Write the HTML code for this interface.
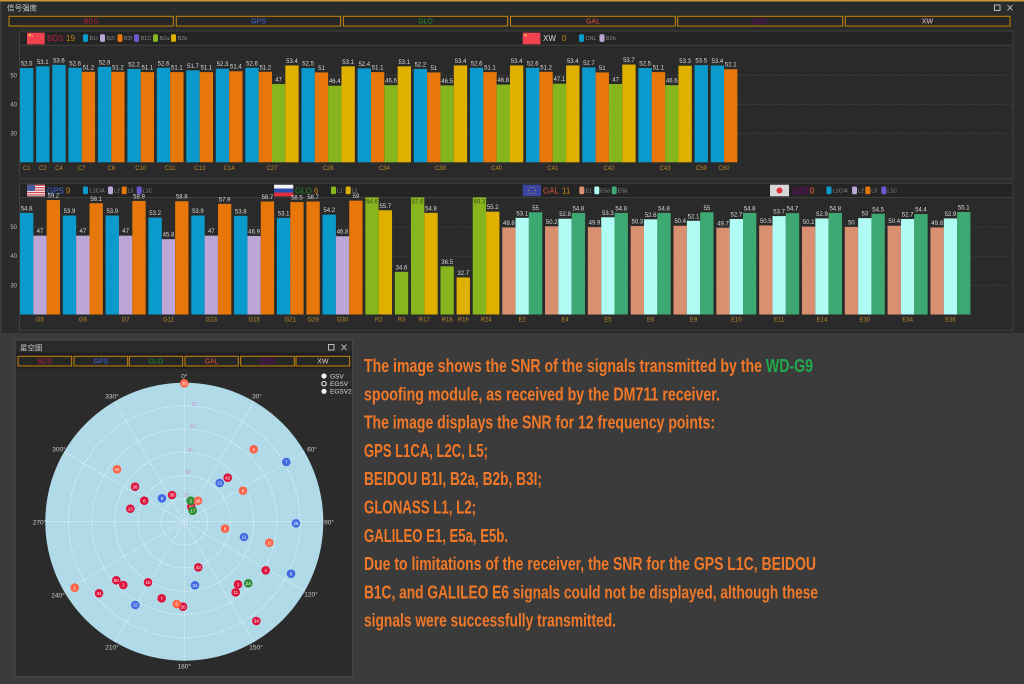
<!DOCTYPE html>
<html><head><meta charset="utf-8"><style>
html,body{margin:0;padding:0;background:#3b3b3b;}
svg{display:block;}
</style></head><body>
<svg width="1024" height="684" viewBox="0 0 1024 684" xmlns="http://www.w3.org/2000/svg" font-family="'Liberation Sans','Noto Sans CJK SC',sans-serif">
<style>
.b{fill:#0A9BCC}.o{fill:#E8770A}.g{fill:#86B51E}.y{fill:#E0B000}.l{fill:#BBA6D6}.s{fill:#D89070}.c{fill:#B0FBF3}.e{fill:#3EA872}.sb{fill:#6A5ACD}
.v{font-size:6px;fill:#dcdcdc;text-anchor:middle}
.vc{font-size:6px;fill:#3c4a20;text-anchor:middle}
.xl{font-size:6px;fill:#C08A2A;text-anchor:middle}
.yl{font-size:6px;fill:#b8b8b8;text-anchor:end}
.lg{font-size:5.5px;fill:#8a8a8a}
.grid{stroke:#474747;stroke-width:0.8;stroke-dasharray:1.5,1.5}
.tab{fill:#262626;stroke:#C8860A;stroke-width:1}
.tl{font-size:7px;text-anchor:middle}
.sat{font-size:4.6px;fill:#fff;text-anchor:middle}
.az{font-size:6.5px;fill:#d0d0d0;text-anchor:middle}
.el{font-size:5px;fill:#D48ED2;text-anchor:middle}
.txt{font-size:18px;font-weight:bold;fill:#F07828}
</style>

<!-- background -->
<rect x="0" y="0" width="1024" height="684" fill="#3b3b3b"/>
<!-- top window -->
<rect x="0" y="0" width="1024" height="333" fill="#2b2b2b"/>
<rect x="0" y="0" width="1024" height="1.5" fill="#C99A2E"/>
<rect x="0" y="1.5" width="1.5" height="331" fill="#3f3f3f"/>
<text x="7" y="10.5" font-size="7.5" fill="#c8c8c8" font-family="'Noto Sans CJK SC',sans-serif">信号强度</text>
<rect x="994.5" y="5" width="5.5" height="5.5" fill="none" stroke="#ccc" stroke-width="0.9"/>
<path d="M1007.5 5 L1012.5 10.5 M1012.5 5 L1007.5 10.5" stroke="#ccc" stroke-width="0.9"/>

<!-- top tabs -->
<rect class="tab" x="9" y="16.3" width="164.3" height="9.7"/>
<rect class="tab" x="176.3" y="16.3" width="164.3" height="9.7"/>
<rect class="tab" x="343.3" y="16.3" width="164.3" height="9.7"/>
<rect class="tab" x="510.5" y="16.3" width="164.8" height="9.7"/>
<rect class="tab" x="677.7" y="16.3" width="165" height="9.7"/>
<rect class="tab" x="845.3" y="16.3" width="164.7" height="9.7"/>
<text class="tl" x="91" y="23.6" fill="#B8203C">BDS</text>
<text class="tl" x="258.5" y="23.6" fill="#4169E1">GPS</text>
<text class="tl" x="425.5" y="23.6" fill="#228B22">GLO</text>
<text class="tl" x="593" y="23.6" fill="#E0503A">GAL</text>
<text class="tl" x="760" y="23.6" fill="#800080">QZS</text>
<text class="tl" x="927.5" y="23.6" fill="#E8C8D0">XW</text>

<!-- TOP CHART PANEL -->
<rect x="19.5" y="31" width="993.5" height="148" fill="#2a2a2a" stroke="#404040" stroke-width="1"/>
<rect x="20" y="31.5" width="992.5" height="13.5" fill="#242424"/>
<line x1="20" y1="45.2" x2="1013" y2="45.2" stroke="#444" stroke-width="0.8"/>
<!-- header BDS -->
<rect x="27" y="32.7" width="17.7" height="11.6" fill="#F0434F"/>
<circle cx="29.8" cy="35.3" r="1.1" fill="#FFD84A"/>
<circle cx="32" cy="34.2" r="0.4" fill="#FFD84A"/><circle cx="32.6" cy="35.4" r="0.4" fill="#FFD84A"/><circle cx="32.2" cy="36.7" r="0.4" fill="#FFD84A"/>
<text x="47" y="41" font-size="8" fill="#B8203C">BDS</text>
<text x="66" y="41" font-size="8" fill="#C8860A">19</text>
<rect class="b" x="83" y="34.2" width="5" height="7.7" rx="1.5"/><text class="lg" x="89.5" y="40">B1I</text>
<rect class="l" x="100" y="34.2" width="5" height="7.7" rx="1.5"/><text class="lg" x="106.5" y="40">B2I</text>
<rect class="o" x="117.5" y="34.2" width="5" height="7.7" rx="1.5"/><text class="lg" x="124" y="40">B3I</text>
<rect class="sb" x="134" y="34.2" width="5" height="7.7" rx="1.5"/><text class="lg" x="140.5" y="40">B1C</text>
<rect class="g" x="153" y="34.2" width="5" height="7.7" rx="1.5"/><text class="lg" x="159.5" y="40">B2a</text>
<rect class="y" x="171" y="34.2" width="5" height="7.7" rx="1.5"/><text class="lg" x="177.5" y="40">B2b</text>
<!-- header XW -->
<rect x="522.7" y="32.7" width="17.7" height="11.6" fill="#F0434F"/>
<circle cx="525.5" cy="35.3" r="1.1" fill="#FFD84A"/>
<text x="543" y="41" font-size="8" fill="#dddddd">XW</text>
<text x="562" y="41" font-size="8" fill="#C8860A">0</text>
<rect class="b" x="579" y="34.2" width="5" height="7.7" rx="1.5"/><text class="lg" x="585.5" y="40">CNL</text>
<rect class="l" x="599.5" y="34.2" width="5" height="7.7" rx="1.5"/><text class="lg" x="606" y="40">B2b</text>

<!-- grid top -->
<line class="grid" x1="20" y1="75.3" x2="1013" y2="75.3"/>
<line class="grid" x1="20" y1="104.3" x2="1013" y2="104.3"/>
<line class="grid" x1="20" y1="133.3" x2="1013" y2="133.3"/>
<text class="yl" x="17" y="77.3">50</text>
<text class="yl" x="17" y="106.3">40</text>
<text class="yl" x="17" y="135.3">30</text>

<g transform="translate(0,162.3) scale(1,2.9)">
<rect class="b" x="20" y="-32.5" width="13.34" height="32.5"/>
<rect class="b" x="36.14" y="-33.1" width="13.34" height="33.1"/>
<rect class="b" x="52.28" y="-33.6" width="13.34" height="33.6"/>
<rect class="b" x="68.42" y="-32.6" width="13.34" height="32.6"/><rect class="o" x="81.76" y="-31.2" width="13.34" height="31.2"/>
<rect class="b" x="97.90" y="-32.9" width="13.34" height="32.9"/><rect class="o" x="111.24" y="-31.2" width="13.34" height="31.2"/>
<rect class="b" x="127.38" y="-32.2" width="13.34" height="32.2"/><rect class="o" x="140.72" y="-31.1" width="13.34" height="31.1"/>
<rect class="b" x="156.86" y="-32.6" width="13.34" height="32.6"/><rect class="o" x="170.20" y="-31.1" width="13.34" height="31.1"/>
<rect class="b" x="186.34" y="-31.7" width="13.34" height="31.7"/><rect class="o" x="199.68" y="-31.1" width="13.34" height="31.1"/>
<rect class="b" x="215.82" y="-32.3" width="13.34" height="32.3"/><rect class="o" x="229.16" y="-31.4" width="13.34" height="31.4"/>
<rect class="b" x="245.30" y="-32.6" width="13.34" height="32.6"/><rect class="o" x="258.64" y="-31.2" width="13.34" height="31.2"/><rect class="g" x="271.98" y="-27" width="13.34" height="27"/><rect class="y" x="285.32" y="-33.4" width="13.34" height="33.4"/>
<rect class="b" x="301.46" y="-32.5" width="13.34" height="32.5"/><rect class="o" x="314.80" y="-31" width="13.34" height="31"/><rect class="g" x="328.14" y="-26.4" width="13.34" height="26.4"/><rect class="y" x="341.48" y="-33.1" width="13.34" height="33.1"/>
<rect class="b" x="357.62" y="-32.4" width="13.34" height="32.4"/><rect class="o" x="370.96" y="-31.1" width="13.34" height="31.1"/><rect class="g" x="384.30" y="-26.6" width="13.34" height="26.6"/><rect class="y" x="397.64" y="-33.1" width="13.34" height="33.1"/>
<rect class="b" x="413.78" y="-32.2" width="13.34" height="32.2"/><rect class="o" x="427.12" y="-31" width="13.34" height="31"/><rect class="g" x="440.46" y="-26.5" width="13.34" height="26.5"/><rect class="y" x="453.80" y="-33.4" width="13.34" height="33.4"/>
<rect class="b" x="469.94" y="-32.6" width="13.34" height="32.6"/><rect class="o" x="483.28" y="-31.1" width="13.34" height="31.1"/><rect class="g" x="496.62" y="-26.8" width="13.34" height="26.8"/><rect class="y" x="509.96" y="-33.4" width="13.34" height="33.4"/>
<rect class="b" x="526.10" y="-32.6" width="13.34" height="32.6"/><rect class="o" x="539.44" y="-31.2" width="13.34" height="31.2"/><rect class="g" x="552.78" y="-27.1" width="13.34" height="27.1"/><rect class="y" x="566.12" y="-33.4" width="13.34" height="33.4"/>
<rect class="b" x="582.26" y="-32.7" width="13.34" height="32.7"/><rect class="o" x="595.60" y="-31" width="13.34" height="31"/><rect class="g" x="608.94" y="-27" width="13.34" height="27"/><rect class="y" x="622.28" y="-33.7" width="13.34" height="33.7"/>
<rect class="b" x="638.42" y="-32.5" width="13.34" height="32.5"/><rect class="o" x="651.76" y="-31.1" width="13.34" height="31.1"/><rect class="g" x="665.10" y="-26.6" width="13.34" height="26.6"/><rect class="y" x="678.44" y="-33.3" width="13.34" height="33.3"/>
<rect class="b" x="694.58" y="-33.5" width="13.34" height="33.5"/>
<rect class="b" x="710.72" y="-33.4" width="13.34" height="33.4"/><rect class="o" x="724.06" y="-32.1" width="13.34" height="32.1"/>
</g>
<g>
<text class="v" x="26.67" y="65.5">52.5</text>
<text class="v" x="42.81" y="63.8">53.1</text>
<text class="v" x="58.95" y="62.4">53.6</text>
<text class="v" x="75.09" y="65.3">52.6</text><text class="v" x="88.43" y="69.3">51.2</text>
<text class="v" x="104.57" y="64.4">52.9</text><text class="v" x="117.91" y="69.3">51.2</text>
<text class="v" x="134.05" y="66.4">52.2</text><text class="v" x="147.39" y="69.6">51.1</text>
<text class="v" x="163.53" y="65.3">52.6</text><text class="v" x="176.87" y="69.6">51.1</text>
<text class="v" x="193.01" y="67.9">51.7</text><text class="v" x="206.35" y="69.6">51.1</text>
<text class="v" x="222.49" y="66.1">52.3</text><text class="v" x="235.83" y="68.7">51.4</text>
<text class="v" x="251.97" y="65.3">52.6</text><text class="v" x="265.31" y="69.3">51.2</text><text class="v" x="278.65" y="81.5">47</text><text class="v" x="291.99" y="62.9">53.4</text>
<text class="v" x="308.13" y="65.5">52.5</text><text class="v" x="321.47" y="69.9">51</text><text class="v" x="334.81" y="83.2">46.4</text><text class="v" x="348.15" y="63.8">53.1</text>
<text class="v" x="364.29" y="65.8">52.4</text><text class="v" x="377.63" y="69.6">51.1</text><text class="v" x="390.97" y="82.7">46.6</text><text class="v" x="404.31" y="63.8">53.1</text>
<text class="v" x="420.45" y="66.4">52.2</text><text class="v" x="433.79" y="69.9">51</text><text class="v" x="447.13" y="82.9">46.5</text><text class="v" x="460.47" y="62.9">53.4</text>
<text class="v" x="476.61" y="65.3">52.6</text><text class="v" x="489.95" y="69.6">51.1</text><text class="v" x="503.29" y="82.1">46.8</text><text class="v" x="516.63" y="62.9">53.4</text>
<text class="v" x="532.77" y="65.3">52.6</text><text class="v" x="546.11" y="69.3">51.2</text><text class="v" x="559.45" y="81.2">47.1</text><text class="v" x="572.79" y="62.9">53.4</text>
<text class="v" x="588.93" y="65.0">52.7</text><text class="v" x="602.27" y="69.9">51</text><text class="v" x="615.61" y="81.5">47</text><text class="v" x="628.95" y="62.1">53.7</text>
<text class="v" x="645.09" y="65.5">52.5</text><text class="v" x="658.43" y="69.6">51.1</text><text class="v" x="671.77" y="82.7">46.6</text><text class="v" x="685.11" y="63.2">53.3</text>
<text class="v" x="701.25" y="62.7">53.5</text>
<text class="v" x="717.39" y="62.9">53.4</text><text class="v" x="730.73" y="66.7">52.1</text>
</g>
<g>
<text class="xl" x="26.67" y="169.8">C1</text>
<text class="xl" x="42.81" y="169.8">C2</text>
<text class="xl" x="58.95" y="169.8">C4</text>
<text class="xl" x="81.76" y="169.8">C7</text>
<text class="xl" x="111.24" y="169.8">C8</text>
<text class="xl" x="140.72" y="169.8">C10</text>
<text class="xl" x="170.20" y="169.8">C11</text>
<text class="xl" x="199.68" y="169.8">C13</text>
<text class="xl" x="229.16" y="169.8">C14</text>
<text class="xl" x="271.98" y="169.8">C27</text>
<text class="xl" x="328.14" y="169.8">C28</text>
<text class="xl" x="384.30" y="169.8">C34</text>
<text class="xl" x="440.46" y="169.8">C38</text>
<text class="xl" x="496.62" y="169.8">C40</text>
<text class="xl" x="552.78" y="169.8">C41</text>
<text class="xl" x="608.94" y="169.8">C42</text>
<text class="xl" x="665.10" y="169.8">C43</text>
<text class="xl" x="701.25" y="169.8">C59</text>
<text class="xl" x="724.06" y="169.8">C60</text>
</g>

<!-- BOTTOM CHART PANEL -->
<rect x="19.5" y="183.3" width="993.5" height="147" fill="#2a2a2a" stroke="#404040" stroke-width="1"/>
<rect x="20" y="183.8" width="992.5" height="13.5" fill="#242424"/>
<line x1="20" y1="197.4" x2="1013" y2="197.4" stroke="#444" stroke-width="0.8"/>
<!-- GPS header -->
<rect x="27" y="184.7" width="18" height="11.6" fill="#f2f2f2"/>
<rect x="27" y="184.7" width="18" height="1.2" fill="#D0454F"/>
<rect x="27" y="187.1" width="18" height="1.2" fill="#D0454F"/>
<rect x="27" y="189.5" width="18" height="1.2" fill="#D0454F"/>
<rect x="27" y="191.9" width="18" height="1.2" fill="#D0454F"/>
<rect x="27" y="194.3" width="18" height="1.2" fill="#D0454F"/>
<rect x="27" y="184.7" width="8" height="6.2" fill="#4A5A9A"/>
<text x="47" y="193.3" font-size="8" fill="#4169E1">GPS</text>
<text x="66" y="193.3" font-size="8" fill="#C8860A">9</text>
<rect class="b" x="83" y="186.5" width="5" height="7.7" rx="1.5"/><text class="lg" x="89.5" y="192.3">L1C/A</text>
<rect class="l" x="108" y="186.5" width="5" height="7.7" rx="1.5"/><text class="lg" x="114" y="192.3">L2</text>
<rect class="o" x="121.7" y="186.5" width="5" height="7.7" rx="1.5"/><text class="lg" x="127.5" y="192.3">L5</text>
<rect class="sb" x="136.7" y="186.5" width="5" height="7.7" rx="1.5"/><text class="lg" x="142.5" y="192.3">L1C</text>
<!-- GLO header -->
<rect x="274" y="184.7" width="19.3" height="3.9" fill="#f4f4f4"/>
<rect x="274" y="188.6" width="19.3" height="3.9" fill="#2850B0"/>
<rect x="274" y="192.5" width="19.3" height="3.9" fill="#E03040"/>
<text x="295" y="193.3" font-size="8" fill="#228B22">GLO</text>
<text x="314" y="193.3" font-size="8" fill="#C8860A">6</text>
<rect class="g" x="331" y="186.5" width="5" height="7.7" rx="1.5"/><text class="lg" x="337" y="192.3">L1</text>
<rect class="y" x="345.7" y="186.5" width="5" height="7.7" rx="1.5"/><text class="lg" x="351.5" y="192.3">L2</text>
<!-- GAL header -->
<rect x="522.7" y="184.7" width="18.3" height="11.6" fill="#3B44A0"/>
<g fill="#E8D040">
<circle cx="531.8" cy="187.2" r="0.45"/><circle cx="534.2" cy="187.9" r="0.45"/><circle cx="535.3" cy="190.5" r="0.45"/><circle cx="534.2" cy="193.1" r="0.45"/><circle cx="531.8" cy="193.8" r="0.45"/><circle cx="529.4" cy="193.1" r="0.45"/><circle cx="528.3" cy="190.5" r="0.45"/><circle cx="529.4" cy="187.9" r="0.45"/>
</g>
<text x="543" y="193.3" font-size="8" fill="#E0503A">GAL</text>
<text x="562" y="193.3" font-size="8" fill="#C8860A">11</text>
<rect class="s" x="579.3" y="186.5" width="5" height="7.7" rx="1.5"/><text class="lg" x="585.5" y="192.3">E1</text>
<rect class="c" x="594.3" y="186.5" width="5" height="7.7" rx="1.5"/><text class="lg" x="600.3" y="192.3">E5a</text>
<rect class="e" x="611.7" y="186.5" width="5" height="7.7" rx="1.5"/><text class="lg" x="617.7" y="192.3">E5b</text>
<!-- QZSS header -->
<rect x="770" y="184.7" width="19" height="11.6" fill="#d8d8d8"/>
<circle cx="779.5" cy="190.5" r="3" fill="#E0303A"/>
<text x="792" y="193.3" font-size="8" fill="#800080">QZSS</text>
<text x="810" y="193.3" font-size="8" fill="#C8860A">0</text>
<rect class="b" x="826.5" y="186.5" width="5" height="7.7" rx="1.5"/><text class="lg" x="832.5" y="192.3">L1C/A</text>
<rect class="l" x="852" y="186.5" width="5" height="7.7" rx="1.5"/><text class="lg" x="858" y="192.3">L2</text>
<rect class="o" x="865.3" y="186.5" width="5" height="7.7" rx="1.5"/><text class="lg" x="871.3" y="192.3">L5</text>
<rect class="sb" x="881.3" y="186.5" width="5" height="7.7" rx="1.5"/><text class="lg" x="887.3" y="192.3">L1C</text>

<line class="grid" x1="20" y1="227" x2="1013" y2="227"/>
<line class="grid" x1="20" y1="256.2" x2="1013" y2="256.2"/>
<line class="grid" x1="20" y1="285.3" x2="1013" y2="285.3"/>
<text class="yl" x="17" y="229">50</text>
<text class="yl" x="17" y="258.2">40</text>
<text class="yl" x="17" y="287.3">30</text>

<g transform="translate(0,314.5) scale(1,2.92)">
<rect class="b" x="20" y="-34.8" width="13.34" height="34.8"/><rect class="l" x="33.34" y="-27" width="13.34" height="27"/><rect class="o" x="46.68" y="-39.2" width="13.34" height="39.2"/>
<rect class="b" x="62.82" y="-33.9" width="13.34" height="33.9"/><rect class="l" x="76.16" y="-27" width="13.34" height="27"/><rect class="o" x="89.50" y="-38.1" width="13.34" height="38.1"/>
<rect class="b" x="105.64" y="-33.9" width="13.34" height="33.9"/><rect class="l" x="118.98" y="-27" width="13.34" height="27"/><rect class="o" x="132.32" y="-38.9" width="13.34" height="38.9"/>
<rect class="b" x="148.46" y="-33.2" width="13.34" height="33.2"/><rect class="l" x="161.80" y="-25.8" width="13.34" height="25.8"/><rect class="o" x="175.14" y="-38.8" width="13.34" height="38.8"/>
<rect class="b" x="191.28" y="-33.9" width="13.34" height="33.9"/><rect class="l" x="204.62" y="-27" width="13.34" height="27"/><rect class="o" x="217.96" y="-37.9" width="13.34" height="37.9"/>
<rect class="b" x="234.10" y="-33.8" width="13.34" height="33.8"/><rect class="l" x="247.44" y="-26.9" width="13.34" height="26.9"/><rect class="o" x="260.78" y="-38.7" width="13.34" height="38.7"/>
<rect class="b" x="276.92" y="-33.1" width="13.34" height="33.1"/><rect class="o" x="290.26" y="-38.5" width="13.34" height="38.5"/>
<rect class="o" x="306.40" y="-38.7" width="13.34" height="38.7"/>
<rect class="b" x="322.54" y="-34.2" width="13.34" height="34.2"/><rect class="l" x="335.88" y="-26.8" width="13.34" height="26.8"/><rect class="o" x="349.22" y="-39" width="13.34" height="39"/>
<rect class="g" x="365.36" y="-40.1" width="13.34" height="40.1"/><rect class="y" x="378.70" y="-35.7" width="13.34" height="35.7"/>
<rect class="g" x="394.84" y="-14.6" width="13.34" height="14.6"/>
<rect class="g" x="410.98" y="-40.1" width="13.34" height="40.1"/><rect class="y" x="424.32" y="-34.8" width="13.34" height="34.8"/>
<rect class="g" x="440.46" y="-16.5" width="13.34" height="16.5"/>
<rect class="y" x="456.60" y="-12.7" width="13.34" height="12.7"/>
<rect class="g" x="472.74" y="-40.1" width="13.34" height="40.1"/><rect class="y" x="486.08" y="-35.2" width="13.34" height="35.2"/>
<rect class="s" x="502.22" y="-29.8" width="13.34" height="29.8"/><rect class="c" x="515.56" y="-33.1" width="13.34" height="33.1"/><rect class="e" x="528.90" y="-35" width="13.34" height="35"/>
<rect class="s" x="545.04" y="-30.2" width="13.34" height="30.2"/><rect class="c" x="558.38" y="-32.8" width="13.34" height="32.8"/><rect class="e" x="571.72" y="-34.8" width="13.34" height="34.8"/>
<rect class="s" x="587.86" y="-29.9" width="13.34" height="29.9"/><rect class="c" x="601.20" y="-33.3" width="13.34" height="33.3"/><rect class="e" x="614.54" y="-34.8" width="13.34" height="34.8"/>
<rect class="s" x="630.68" y="-30.3" width="13.34" height="30.3"/><rect class="c" x="644.02" y="-32.6" width="13.34" height="32.6"/><rect class="e" x="657.36" y="-34.8" width="13.34" height="34.8"/>
<rect class="s" x="673.50" y="-30.4" width="13.34" height="30.4"/><rect class="c" x="686.84" y="-32.1" width="13.34" height="32.1"/><rect class="e" x="700.18" y="-35" width="13.34" height="35"/>
<rect class="s" x="716.32" y="-29.7" width="13.34" height="29.7"/><rect class="c" x="729.66" y="-32.7" width="13.34" height="32.7"/><rect class="e" x="743.00" y="-34.8" width="13.34" height="34.8"/>
<rect class="s" x="759.14" y="-30.5" width="13.34" height="30.5"/><rect class="c" x="772.48" y="-33.7" width="13.34" height="33.7"/><rect class="e" x="785.82" y="-34.7" width="13.34" height="34.7"/>
<rect class="s" x="801.96" y="-30.1" width="13.34" height="30.1"/><rect class="c" x="815.30" y="-32.9" width="13.34" height="32.9"/><rect class="e" x="828.64" y="-34.8" width="13.34" height="34.8"/>
<rect class="s" x="844.78" y="-30" width="13.34" height="30"/><rect class="c" x="858.12" y="-33" width="13.34" height="33"/><rect class="e" x="871.46" y="-34.5" width="13.34" height="34.5"/>
<rect class="s" x="887.60" y="-30.4" width="13.34" height="30.4"/><rect class="c" x="900.94" y="-32.7" width="13.34" height="32.7"/><rect class="e" x="914.28" y="-34.4" width="13.34" height="34.4"/>
<rect class="s" x="930.42" y="-29.8" width="13.34" height="29.8"/><rect class="c" x="943.76" y="-32.9" width="13.34" height="32.9"/><rect class="e" x="957.10" y="-35.1" width="13.34" height="35.1"/>
</g>
<g>
<text class="v" x="26.67" y="210.4">54.8</text><text class="v" x="40.01" y="233.2">47</text><text class="v" x="53.35" y="197.5">59.2</text>
<text class="v" x="69.49" y="213.0">53.9</text><text class="v" x="82.83" y="233.2">47</text><text class="v" x="96.17" y="200.8">58.1</text>
<text class="v" x="112.31" y="213.0">53.9</text><text class="v" x="125.65" y="233.2">47</text><text class="v" x="138.99" y="198.4">58.9</text>
<text class="v" x="155.13" y="215.1">53.2</text><text class="v" x="168.47" y="236.7">45.8</text><text class="v" x="181.81" y="198.7">58.8</text>
<text class="v" x="197.95" y="213.0">53.9</text><text class="v" x="211.29" y="233.2">47</text><text class="v" x="224.63" y="201.3">57.9</text>
<text class="v" x="240.77" y="213.3">53.8</text><text class="v" x="254.11" y="233.5">46.9</text><text class="v" x="267.45" y="199.0">58.7</text>
<text class="v" x="283.59" y="215.4">53.1</text><text class="v" x="296.93" y="199.6">58.5</text>
<text class="v" x="313.07" y="199.0">58.7</text>
<text class="v" x="329.21" y="212.1">54.2</text><text class="v" x="342.55" y="233.7">46.8</text><text class="v" x="355.89" y="198.1">59</text>
<text class="vc" x="372.03" y="203.5">64.6</text><text class="v" x="385.37" y="207.8">55.7</text>
<text class="v" x="401.51" y="269.4">34.6</text>
<text class="vc" x="417.65" y="203.5">67.6</text><text class="v" x="430.99" y="210.4">54.8</text>
<text class="v" x="447.13" y="263.8">36.5</text>
<text class="v" x="463.27" y="274.9">32.7</text>
<text class="vc" x="479.41" y="203.5">69.3</text><text class="v" x="492.75" y="209.2">55.2</text>
<text class="v" x="508.89" y="225.0">49.8</text><text class="v" x="522.23" y="215.4">53.1</text><text class="v" x="535.57" y="209.8">55</text>
<text class="v" x="551.71" y="223.8">50.2</text><text class="v" x="565.05" y="216.2">52.8</text><text class="v" x="578.39" y="210.4">54.8</text>
<text class="v" x="594.53" y="224.7">49.9</text><text class="v" x="607.87" y="214.8">53.3</text><text class="v" x="621.21" y="210.4">54.8</text>
<text class="v" x="637.35" y="223.5">50.3</text><text class="v" x="650.69" y="216.8">52.6</text><text class="v" x="664.03" y="210.4">54.8</text>
<text class="v" x="680.17" y="223.2">50.4</text><text class="v" x="693.51" y="218.3">52.1</text><text class="v" x="706.85" y="209.8">55</text>
<text class="v" x="722.99" y="225.3">49.7</text><text class="v" x="736.33" y="216.5">52.7</text><text class="v" x="749.67" y="210.4">54.8</text>
<text class="v" x="765.81" y="222.9">50.5</text><text class="v" x="779.15" y="213.6">53.7</text><text class="v" x="792.49" y="210.7">54.7</text>
<text class="v" x="808.63" y="224.1">50.1</text><text class="v" x="821.97" y="215.9">52.9</text><text class="v" x="835.31" y="210.4">54.8</text>
<text class="v" x="851.45" y="224.4">50</text><text class="v" x="864.79" y="215.6">53</text><text class="v" x="878.13" y="211.3">54.5</text>
<text class="v" x="894.27" y="223.2">50.4</text><text class="v" x="907.61" y="216.5">52.7</text><text class="v" x="920.95" y="211.5">54.4</text>
<text class="v" x="937.09" y="225.0">49.8</text><text class="v" x="950.43" y="215.9">52.9</text><text class="v" x="963.77" y="209.5">55.1</text>
</g>
<g>
<text class="xl" x="40.01" y="321.4">G5</text>
<text class="xl" x="82.83" y="321.4">G6</text>
<text class="xl" x="125.65" y="321.4">G7</text>
<text class="xl" x="168.47" y="321.4">G11</text>
<text class="xl" x="211.29" y="321.4">G13</text>
<text class="xl" x="254.11" y="321.4">G15</text>
<text class="xl" x="290.26" y="321.4">G21</text>
<text class="xl" x="313.07" y="321.4">G29</text>
<text class="xl" x="342.55" y="321.4">G30</text>
<text class="xl" x="378.70" y="321.4">R2</text>
<text class="xl" x="401.51" y="321.4">R3</text>
<text class="xl" x="424.32" y="321.4">R17</text>
<text class="xl" x="447.13" y="321.4">R18</text>
<text class="xl" x="463.27" y="321.4">R19</text>
<text class="xl" x="486.08" y="321.4">R24</text>
<text class="xl" x="522.23" y="321.4">E2</text>
<text class="xl" x="565.05" y="321.4">E4</text>
<text class="xl" x="607.87" y="321.4">E5</text>
<text class="xl" x="650.69" y="321.4">E6</text>
<text class="xl" x="693.51" y="321.4">E9</text>
<text class="xl" x="736.33" y="321.4">E10</text>
<text class="xl" x="779.15" y="321.4">E11</text>
<text class="xl" x="821.97" y="321.4">E14</text>
<text class="xl" x="864.79" y="321.4">E30</text>
<text class="xl" x="907.61" y="321.4">E34</text>
<text class="xl" x="950.43" y="321.4">E36</text>
</g>

<!-- SKY PLOT WINDOW -->
<rect x="15" y="340" width="337.7" height="336.7" fill="#2b2b2b" stroke="#4c4c4c" stroke-width="1"/>
<text x="20" y="350.3" font-size="7.5" fill="#c8c8c8" font-family="'Noto Sans CJK SC',sans-serif">星空图</text>
<rect x="328.5" y="344.5" width="5.5" height="5.5" fill="none" stroke="#ccc" stroke-width="0.9"/>
<path d="M341.5 344.5 L346.5 350 M346.5 344.5 L341.5 350" stroke="#ccc" stroke-width="0.9"/>
<rect x="16.5" y="352.5" width="335" height="16" fill="#1f1f1f"/>
<rect class="tab" x="18" y="356.3" width="53.7" height="9.7"/>
<rect class="tab" x="74" y="356.3" width="53.7" height="9.7"/>
<rect class="tab" x="129.3" y="356.3" width="53.4" height="9.7"/>
<rect class="tab" x="185" y="356.3" width="53.3" height="9.7"/>
<rect class="tab" x="240.7" y="356.3" width="53.6" height="9.7"/>
<rect class="tab" x="296" y="356.3" width="53.7" height="9.7"/>
<text class="tl" x="44.8" y="363.7" fill="#B8203C">BDS</text>
<text class="tl" x="100.8" y="363.7" fill="#4169E1">GPS</text>
<text class="tl" x="156" y="363.7" fill="#228B22">GLO</text>
<text class="tl" x="211.6" y="363.7" fill="#E0503A">GAL</text>
<text class="tl" x="267.5" y="363.7" fill="#800080">QZS</text>
<text class="tl" x="322.8" y="363.7" fill="#E8C8D0">XW</text>

<!-- legend -->
<circle cx="324" cy="376" r="2.6" fill="#f0f0f0"/>
<circle cx="324" cy="383.7" r="2.2" fill="none" stroke="#f0f0f0" stroke-width="1.1"/>
<circle cx="324" cy="391.3" r="2.6" fill="#f0f0f0"/>
<text x="330" y="378.3" font-size="6.5" fill="#dddddd">GSV</text>
<text x="330" y="386" font-size="6.5" fill="#dddddd">EGSV</text>
<text x="330" y="393.6" font-size="6.5" fill="#dddddd">EGSV2</text>

<!-- polar -->
<circle cx="184.3" cy="521.7" r="139" fill="#B0DAE8"/>
<g fill="none" stroke="#ffffff" stroke-opacity="0.75" stroke-width="0.8" stroke-dasharray="1.5,1.5">
<circle cx="184.3" cy="521.7" r="23.17"/>
<circle cx="184.3" cy="521.7" r="46.33"/>
<circle cx="184.3" cy="521.7" r="69.5"/>
<circle cx="184.3" cy="521.7" r="92.67"/>
<circle cx="184.3" cy="521.7" r="115.83"/>
<line x1="184.3" y1="382.7" x2="184.3" y2="660.7"/>
<line x1="253.8" y1="401.3" x2="114.8" y2="642.1"/>
<line x1="304.7" y1="452.2" x2="63.9" y2="591.2"/>
<line x1="323.3" y1="521.7" x2="45.3" y2="521.7"/>
<line x1="304.7" y1="591.2" x2="63.9" y2="452.2"/>
<line x1="253.8" y1="642.1" x2="114.8" y2="401.3"/>
</g>
<text class="az" x="184.3" y="378.3">0°</text>
<text class="az" x="257" y="398.3">30°</text>
<text class="az" x="312" y="451.3">60°</text>
<text class="az" x="329" y="524.3">90°</text>
<text class="az" x="311" y="596.3">120°</text>
<text class="az" x="256" y="649.3">150°</text>
<text class="az" x="184.3" y="668.3">180°</text>
<text class="az" x="112" y="649.3">210°</text>
<text class="az" x="58" y="597.3">240°</text>
<text class="az" x="39.5" y="524.3">270°</text>
<text class="az" x="59" y="451.3">300°</text>
<text class="az" x="112" y="398.3">330°</text>
<text class="el" x="194.3" y="405.8">15</text>
<text class="el" x="192.3" y="428.5">30</text>
<text class="el" x="190" y="451.8">45</text>
<text class="el" x="188.3" y="474.1">60</text>
<text class="el" x="186" y="496.8">75</text>

<!-- satellites -->
<g>
<circle cx="184.3" cy="383.3" r="4.3" fill="#FF6347"/><text class="sat" x="184.3" y="385">30</text>
<circle cx="253.7" cy="449.3" r="4.3" fill="#FF6347"/><text class="sat" x="253.7" y="451">4</text>
<circle cx="286.3" cy="462" r="4.3" fill="#4169E1"/><text class="sat" x="286.3" y="463.7">7</text>
<circle cx="117" cy="469.3" r="4.3" fill="#FF6347"/><text class="sat" x="117" y="471">34</text>
<circle cx="227.7" cy="477.7" r="4.3" fill="#DC143C"/><text class="sat" x="227.7" y="479.4">42</text>
<circle cx="219.7" cy="483" r="4.3" fill="#4169E1"/><text class="sat" x="219.7" y="484.7">21</text>
<circle cx="135" cy="486.7" r="4.3" fill="#DC143C"/><text class="sat" x="135" y="488.4">28</text>
<circle cx="243" cy="490.7" r="4.3" fill="#FF6347"/><text class="sat" x="243" y="492.4">6</text>
<circle cx="172" cy="495" r="4.3" fill="#DC143C"/><text class="sat" x="172" y="496.7">38</text>
<circle cx="162" cy="498.3" r="4.3" fill="#4169E1"/><text class="sat" x="162" y="500">5</text>
<circle cx="144.3" cy="500.7" r="4.3" fill="#DC143C"/><text class="sat" x="144.3" y="502.4">8</text>
<circle cx="191.3" cy="506.7" r="4.3" fill="#DC143C"/><text class="sat" x="191.3" y="508.4">40</text>
<circle cx="190.7" cy="500.7" r="4.3" fill="#2E8B2E"/><text class="sat" x="190.7" y="502.4">3</text>
<circle cx="198" cy="500.7" r="4.3" fill="#FF6347"/><text class="sat" x="198" y="502.4">36</text>
<circle cx="192.7" cy="510.7" r="4.3" fill="#2E8B2E"/><text class="sat" x="192.7" y="512.4">17</text>
<circle cx="130.3" cy="508.7" r="4.3" fill="#DC143C"/><text class="sat" x="130.3" y="510.4">13</text>
<circle cx="296" cy="523.3" r="4.3" fill="#4169E1"/><text class="sat" x="296" y="525">25</text>
<circle cx="225" cy="528.7" r="4.3" fill="#FF6347"/><text class="sat" x="225" y="530.4">9</text>
<circle cx="244" cy="537" r="4.3" fill="#4169E1"/><text class="sat" x="244" y="538.7">11</text>
<circle cx="269.3" cy="542.7" r="4.3" fill="#FF6347"/><text class="sat" x="269.3" y="544.4">11</text>
<circle cx="198.3" cy="567.3" r="4.3" fill="#DC143C"/><text class="sat" x="198.3" y="569">43</text>
<circle cx="265.7" cy="570.3" r="4.3" fill="#DC143C"/><text class="sat" x="265.7" y="572">4</text>
<circle cx="291" cy="573.7" r="4.3" fill="#4169E1"/><text class="sat" x="291" y="575.4">6</text>
<circle cx="116.3" cy="580.3" r="4.3" fill="#DC143C"/><text class="sat" x="116.3" y="582">60</text>
<circle cx="123.3" cy="585" r="4.3" fill="#DC143C"/><text class="sat" x="123.3" y="586.7">2</text>
<circle cx="148" cy="582.3" r="4.3" fill="#DC143C"/><text class="sat" x="148" y="584">10</text>
<circle cx="195" cy="585.3" r="4.3" fill="#4169E1"/><text class="sat" x="195" y="587">31</text>
<circle cx="238" cy="584.3" r="4.3" fill="#DC143C"/><text class="sat" x="238" y="586">1</text>
<circle cx="248.3" cy="583.3" r="4.3" fill="#2E8B2E"/><text class="sat" x="248.3" y="585">24</text>
<circle cx="235.7" cy="592.3" r="4.3" fill="#DC143C"/><text class="sat" x="235.7" y="594">11</text>
<circle cx="74.7" cy="587.7" r="4.3" fill="#FF6347"/><text class="sat" x="74.7" y="589.4">2</text>
<circle cx="99" cy="593.3" r="4.3" fill="#DC143C"/><text class="sat" x="99" y="595">41</text>
<circle cx="161.7" cy="598.3" r="4.3" fill="#DC143C"/><text class="sat" x="161.7" y="600">7</text>
<circle cx="183" cy="606.7" r="4.3" fill="#DC143C"/><text class="sat" x="183" y="608.4">20</text>
<circle cx="176.7" cy="604" r="4.3" fill="#FF6347"/><text class="sat" x="176.7" y="605.7">5</text>
<circle cx="135.3" cy="605" r="4.3" fill="#4169E1"/><text class="sat" x="135.3" y="606.7">15</text>
<circle cx="256.3" cy="621" r="4.3" fill="#DC143C"/><text class="sat" x="256.3" y="622.7">34</text>
</g>

<!-- description text -->
<g class="txt">
<text x="364" y="372" textLength="449" lengthAdjust="spacingAndGlyphs">The image shows the SNR of the signals transmitted by the <tspan fill="#22A84A">WD-G9</tspan></text>
<text x="364" y="400.3" textLength="356" lengthAdjust="spacingAndGlyphs">spoofing module, as received by the DM711 receiver.</text>
<text x="364" y="428.6" textLength="351" lengthAdjust="spacingAndGlyphs">The image displays the SNR for 12 frequency points:</text>
<text x="364" y="457" textLength="124" lengthAdjust="spacingAndGlyphs">GPS L1CA, L2C, L5;</text>
<text x="364" y="485.2" textLength="178" lengthAdjust="spacingAndGlyphs">BEIDOU B1I, B2a, B2b, B3I;</text>
<text x="364" y="513.5" textLength="112" lengthAdjust="spacingAndGlyphs">GLONASS L1, L2;</text>
<text x="364" y="541.8" textLength="144" lengthAdjust="spacingAndGlyphs">GALILEO E1, E5a, E5b.</text>
<text x="364" y="570" textLength="452" lengthAdjust="spacingAndGlyphs">Due to limitations of the receiver, the SNR for the GPS L1C, BEIDOU</text>
<text x="364" y="598.4" textLength="454" lengthAdjust="spacingAndGlyphs">B1C, and GALILEO E6 signals could not be displayed, although these</text>
<text x="364" y="626.7" textLength="252" lengthAdjust="spacingAndGlyphs">signals were successfully transmitted.</text>
</g>
</svg>
</body></html>
